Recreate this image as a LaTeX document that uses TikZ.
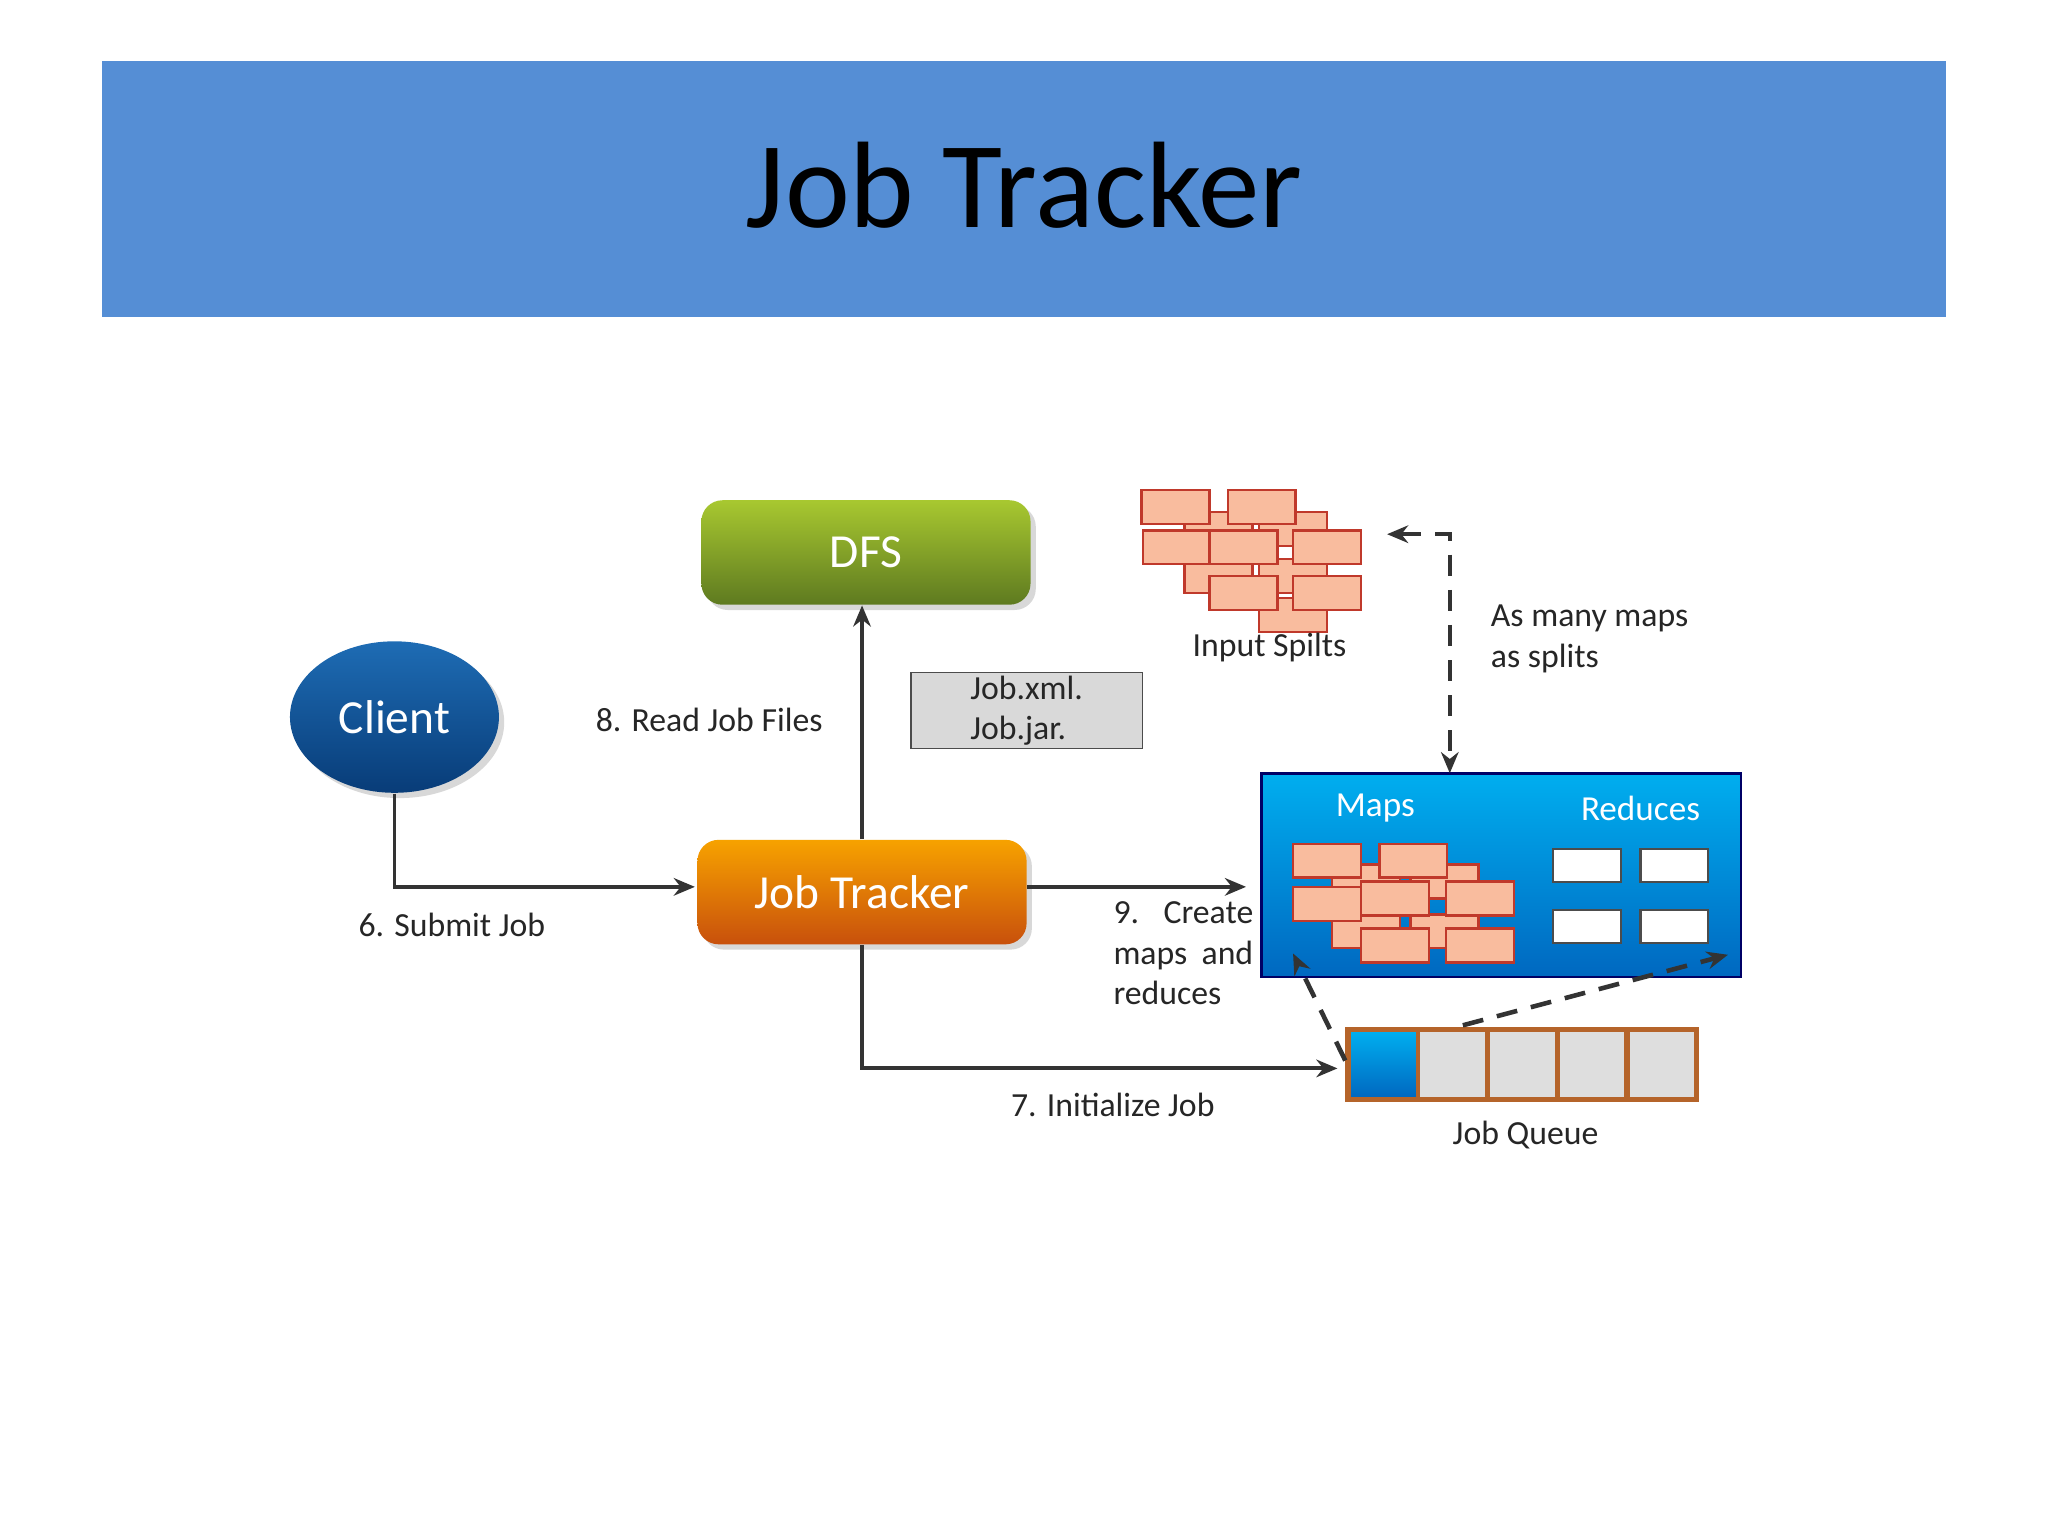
\documentclass[tikz,border=0pt]{standalone}
\usepackage{fontspec}
\setmainfont{Carlito}
\usetikzlibrary{arrows.meta,shadows,shapes.geometric}
\definecolor{hdr}{HTML}{558ED5}
\definecolor{spl}{HTML}{F9BC9E}
\definecolor{splb}{HTML}{C0392B}
\definecolor{qb}{HTML}{B5642A}
\definecolor{gtop}{HTML}{A8C830}
\definecolor{gbot}{HTML}{5E7A20}
\definecolor{ctop}{HTML}{1E6CB4}
\definecolor{cbot}{HTML}{083C78}
\definecolor{otop}{HTML}{F7A200}
\definecolor{obot}{HTML}{C8500C}
\definecolor{mtop}{HTML}{00AEEF}
\definecolor{mbot}{HTML}{0068C0}
\begin{document}
\begin{tikzpicture}[x=0.01306cm,y=-0.01306cm,
  lab/.style={font=\fontsize{9.6}{11.5}\selectfont,text=black!85},
  conn/.style={line width=1.1pt,black!80,-{Stealth[length=6pt,width=5pt]}},
  dconn/.style={line width=1.3pt,black!80,dash pattern=on 6pt off 4pt,-{Stealth[length=6pt,width=5pt]}},
  sp/.style={fill=spl,draw=splb,line width=0.7pt},
  wh/.style={fill=white,draw=black!70,line width=0.6pt},
  big/.style={font=\fontsize{13.5}{16}\selectfont,text=white},
  sh/.style={drop shadow={shadow xshift=1.5pt,shadow yshift=-1.5pt,opacity=0.3}}]
\useasboundingbox (0,0) rectangle (1568,1176);
\fill[white] (0,0) rectangle (1568,1176);
\fill[hdr] (78,47) rectangle (1490,243);
\node[font=\fontsize{35}{40}\selectfont] (title) at (784,142) {Job Tracker};
% DFS
\node[sh,rounded corners=6pt,minimum width=252*0.01306cm,minimum height=80*0.01306cm,
  top color=gtop,bottom color=gbot,big] (dfs) at (663,423) {DFS};
% Client
\node[sh,ellipse,minimum width=160*0.01306cm,minimum height=116*0.01306cm,
  top color=ctop,bottom color=cbot,big] (client) at (302,549) {Client};
% Job Tracker
\node[sh,rounded corners=6pt,minimum width=252*0.01306cm,minimum height=80*0.01306cm,
  top color=otop,bottom color=obot,big] (jt) at (660,683) {Job Tracker};
% Job.xml
\node[draw=black!70,fill=black!15,minimum width=177*0.01306cm,minimum height=58*0.01306cm,
  lab,align=left,inner sep=0pt] (files) at (786,544) {Job.xml.\\Job.jar.};
% input splits
\foreach \x/\y in {907/392,964/392,907/428,964/428,964/458}
  \draw[sp] (\x,\y) rectangle ++(52,26);
\foreach \x/\y in {874/375,940/375,875/406,926/406,990/406,926/441,990/441}
  \draw[sp] (\x,\y) rectangle ++(52,26);
\node[lab] (splitslab) at (972,496) {Input Spilts};
% maps box
\node[draw=blue!40!black,line width=0.8pt,top color=mtop,bottom color=mbot,
  minimum width=367*0.01306cm,minimum height=156*0.01306cm] (maps) at (1149.5,670) {};
\node[font=\fontsize{10}{12}\selectfont,text=white] (mapslab) at (1053,619) {Maps};
\node[font=\fontsize{10}{12}\selectfont,text=white] (redlab) at (1256,619) {Reduces};
\foreach \x/\y in {1020/662,1080/662,1020/700,1080/700}
  \draw[sp] (\x,\y) rectangle ++(52,26);
\foreach \x/\y in {990/646,1056/646,990/679,1042/675,1107/675,1042/711,1107/711}
  \draw[sp] (\x,\y) rectangle ++(52,26);
\foreach \x/\y in {1189/650,1256/650,1189/697,1256/697}
  \draw[wh] (\x,\y) rectangle ++(52,25);
% job queue
\foreach \i in {0,...,4}
  \draw[line width=1.5pt,draw=qb,fill=black!13] (1032+53.4*\i,788) rectangle ++(53.4,54);
\fill[top color=mtop,bottom color=mbot] (1034,790) rectangle (1084,840);
\draw[line width=1.5pt,draw=qb] (1032,788) rectangle (1299,842);
\node[lab] (qlab) at (1168,869) {Job Queue};
% connectors
\coordinate (jtin) at (532,679);
\draw[conn] (client.south) |- (jtin);
\node[lab] (l6) at (346,708) {6. Submit Job};
\draw[conn] (jt.north) -- (dfs.south -| jt.north);
\node[lab] (l8) at (543,551) {8. Read Job Files};
\coordinate (mapl) at (954,679);
\draw[conn] (jt.east |- mapl) -- (mapl);
\node[lab,anchor=north west,inner sep=0pt,text width=107*0.01306cm] (l9) at (852,690)
  {9.\hfill Create\\maps\hfill and\\reduces};
\coordinate (qin) at (1024,818);
\draw[conn] (jt.south) |- (qin);
\node[lab] (l7) at (852,846) {7. Initialize Job};
\coordinate (sa) at (1062,409);
\coordinate (sb) at (1110,592);
\draw[dconn,{Stealth[length=6pt,width=5pt]}-{Stealth[length=6pt,width=5pt]}] (sa) -- (1110,409) -- (sb);
\node[lab,align=left,anchor=west] (l10) at (1132,489) {As many maps\\as splits};
\coordinate (qa) at (1030,812);
\coordinate (ma) at (990,730);
\draw[dconn] (qa) -- (ma);
\coordinate (qb2) at (1120,785);
\coordinate (mb) at (1323,731);
\draw[dconn] (qb2) -- (mb);
\end{tikzpicture}
\end{document}
